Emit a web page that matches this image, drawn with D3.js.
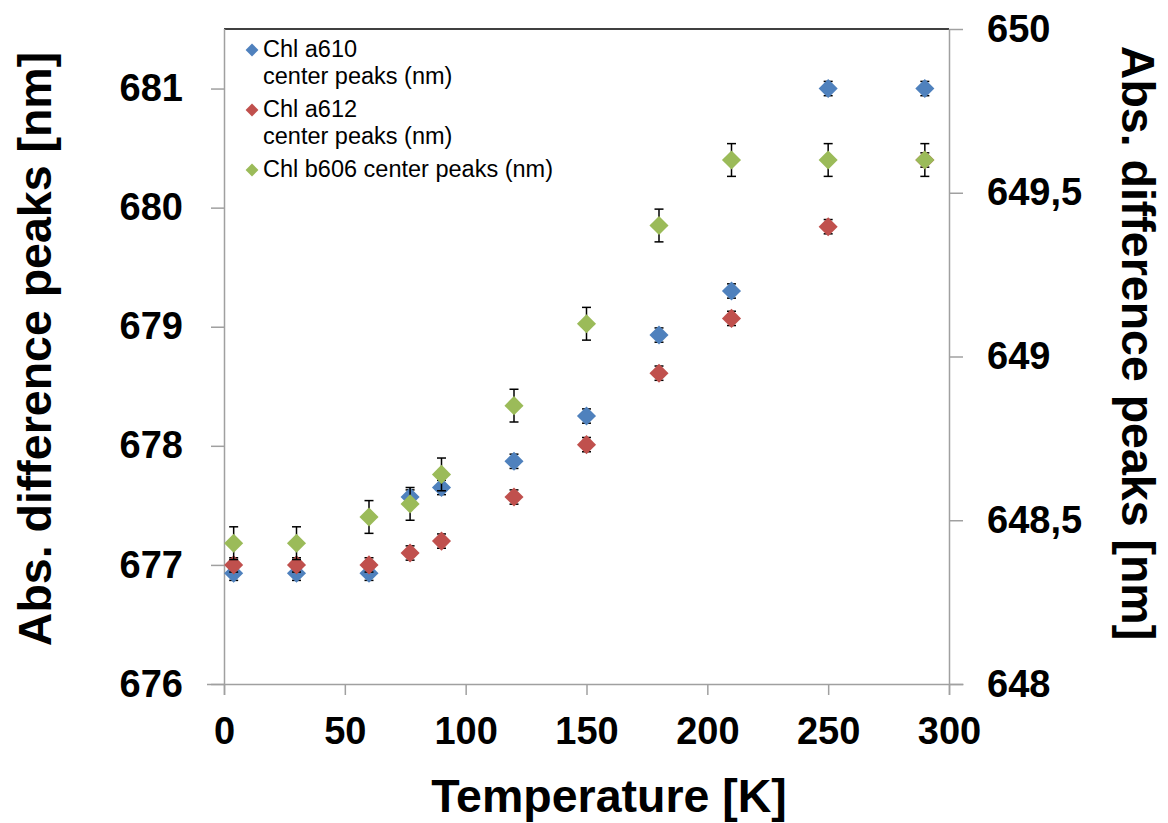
<!doctype html>
<html>
    <head>
        <meta charset="utf-8">
        <title>Chl center peaks</title>
        <style type="text/css">
            body{
                margin:0;
                background:#fff;
            }
            svg text{
                font-family: "Liberation Sans", Arial, Helvetica, sans-serif;
                fill:#000;
            }
            .tick text{
                font-weight:bold;
                font-size:38px;
            }
            .title{
                font-weight:bold;
                font-size:46.5px;
            }
            .legend text{
                font-size:23.5px;
            }
        </style>
    </head>
    <body>
        <div id="vis"></div>
        <script src="https://d3js.org/d3.v7.min.js"></script>
        <script type="text/javascript">
            var temps = [4, 30, 60, 77, 90, 120, 150, 180, 210, 250, 290];
            var a610 = [676.93, 676.93, 676.93, 677.57, 677.65, 677.87, 678.25, 678.93, 679.30, 681.0, 681.0];
            var a612 = [677.0, 677.0, 677.0, 677.10, 677.20, 677.57, 678.01, 678.61, 679.07, 679.84, 680.40];
            var b606 = [648.43, 648.43, 648.51, 648.55, 648.64, 648.85, 649.10, 649.40, 649.60, 649.60, 649.60];
            var a610Err = [0.06, 0.06, 0.06, 0.06, 0.06, 0.06, 0.06, 0.06, 0.06, 0.06, 0.06];
            var a612Err = [0.06, 0.06, 0.06, 0.06, 0.06, 0.06, 0.06, 0.06, 0.06, 0.06, 0.06];
            var b606Err = [0.05, 0.05, 0.05, 0.05, 0.05, 0.05, 0.05, 0.05, 0.05, 0.05, 0.05];

            var xTicks = [0, 50, 100, 150, 200, 250, 300];
            var leftTicks = [676, 677, 678, 679, 680, 681];
            var rightTicks = [648, 648.5, 649, 649.5, 650];
            var legendLines = [['Chl a610', 'center peaks (nm)'], ['Chl a612', 'center peaks (nm)'], ['Chl b606 center peaks (nm)']];

            var colors = ['#4f81bd', '#c0504d', '#9bbb59'],
                axisColor = '#a0a0a0';

            var svg = d3.select('#vis').append('svg').attr('width', 1168).attr('height', 823),
                x = d3.scaleLinear().domain([0, 300]).range([224, 949]),
                yLeft = d3.scaleLinear().domain([676, 681.5]).range([684, 29]),
                yRight = d3.scaleLinear().domain([648, 650]).range([684, 29]);

            // frame: black top edge, grey axes
            svg.append('line').attr('x1', x(0)).attr('x2', x(300)).attr('y1', 29).attr('y2', 29)
                .style('stroke', '#000').style('stroke-width', 1.5);

            var xAxis = d3.axisBottom(x).tickValues(xTicks).tickSize(11).tickPadding(22).tickSizeOuter(0),
                leftAxis = d3.axisLeft(yLeft).tickValues(leftTicks).tickSize(13).tickPadding(28).tickSizeOuter(0).tickFormat(d3.format('d')),
                rightAxis = d3.axisRight(yRight).tickValues(rightTicks).tickSize(14).tickPadding(24).tickSizeOuter(0)
                    .tickFormat(function(d){ return String(d).replace('.', ','); });

            var gx = svg.append('g').attr('transform', 'translate(0,684)').call(xAxis);
            var gl = svg.append('g').attr('transform', 'translate(224,0)').call(leftAxis);
            var gr = svg.append('g').attr('transform', 'translate(949,0)').call(rightAxis);

            [gx, gl, gr].forEach(function(g){
                g.select('.domain').style('stroke', axisColor).style('stroke-width', 1.5);
                g.selectAll('.tick line').style('stroke', axisColor).style('stroke-width', 1.5);
                g.selectAll('.tick text').attr('font-family', null).attr('font-size', null).style('fill', '#000');
            });
            gx.select('.domain').attr('d', 'M207,0.5H963.5');
            gl.select('.domain').attr('d', 'M0.5,29V695');
            gr.select('.domain').attr('d', 'M0.5,29V695');
            gx.selectAll('.tick text').attr('dy', '0.71em');

            // series
            var series = [
                {vals: a610, err: a610Err, y: yLeft, color: colors[0]},
                {vals: a612, err: a612Err, y: yLeft, color: colors[1]},
                {vals: b606, err: b606Err, y: yRight, color: colors[2]}
            ];
            var diamond = d3.symbol().type(d3.symbolSquare).size(182);

            series.forEach(function(s){
                var g = svg.append('g'),
                    pts = temps.map(function(t, i){ return {t: t, v: s.vals[i], e: s.err[i]}; });

                var eb = g.selectAll('.err').data(pts).enter().append('g').attr('class', 'err')
                    .style('stroke', '#000').style('stroke-width', 1.5);
                eb.append('line').attr('x1', function(d){ return x(d.t); }).attr('x2', function(d){ return x(d.t); })
                    .attr('y1', function(d){ return s.y(d.v - d.e); }).attr('y2', function(d){ return s.y(d.v + d.e); });
                eb.append('line').attr('x1', function(d){ return x(d.t) - 4.5; }).attr('x2', function(d){ return x(d.t) + 4.5; })
                    .attr('y1', function(d){ return s.y(d.v + d.e); }).attr('y2', function(d){ return s.y(d.v + d.e); });
                eb.append('line').attr('x1', function(d){ return x(d.t) - 4.5; }).attr('x2', function(d){ return x(d.t) + 4.5; })
                    .attr('y1', function(d){ return s.y(d.v - d.e); }).attr('y2', function(d){ return s.y(d.v - d.e); });

                g.selectAll('.pt').data(pts).enter().append('path').attr('class', 'pt')
                    .attr('d', diamond)
                    .attr('transform', function(d){ return 'translate(' + x(d.t) + ',' + s.y(d.v) + ') rotate(45)'; })
                    .style('fill', s.color);
            });

            // legend
            var legend = svg.append('g').attr('class', 'legend'),
                legendMarkerY = [50, 110, 170],
                legendSym = d3.symbol().type(d3.symbolSquare).size(82);
            legendLines.forEach(function(lines, i){
                legend.append('path').attr('d', legendSym)
                    .attr('transform', 'translate(252,' + legendMarkerY[i] + ') rotate(45)')
                    .style('fill', colors[i]);
                lines.forEach(function(l, j){
                    legend.append('text').attr('x', 263).attr('y', legendMarkerY[i] + 7 + j * 27).text(l);
                });
            });

            // titles
            svg.append('text').attr('class', 'title').attr('x', 609).attr('y', 812)
                .style('text-anchor', 'middle').text('Temperature [K]');
            svg.append('text').attr('class', 'title').attr('transform', 'translate(51,349) rotate(-90)')
                .style('text-anchor', 'middle').text('Abs. difference peaks [nm]');
            svg.append('text').attr('class', 'title').attr('transform', 'translate(1122,343) rotate(90)')
                .style('text-anchor', 'middle').text('Abs. difference peaks [nm]');
        </script>
    </body>
</html>
